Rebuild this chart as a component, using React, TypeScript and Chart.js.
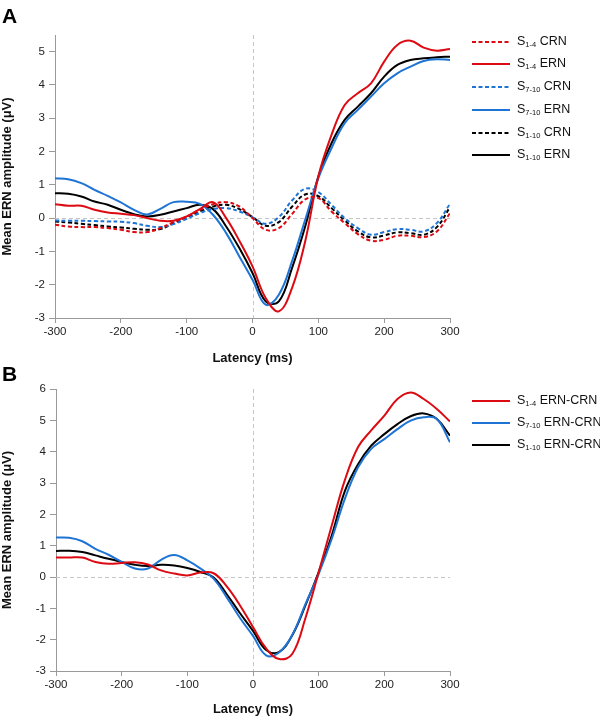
import React, { useEffect, useRef } from "react";
import { Chart, registerables } from "chart.js";

Chart.register(...registerables);

// ---------- data ----------
const LATENCY = [
  -300, -280, -260, -240, -220, -200, -180, -160, -140, -120, -100, -80, -60, -40, -20, 0,
  20, 40, 60, 80, 100, 120, 140, 160, 180, 200, 220, 240, 260, 280, 300,
];

// Panel A
const A_S14_CRN = [
  -0.2, -0.25, -0.27, -0.27, -0.3, -0.35, -0.42, -0.42, -0.3, -0.12, 0.05, 0.25, 0.42, 0.48, 0.35, 0.0,
  -0.35, -0.3, 0.12, 0.56, 0.6, 0.2, -0.15, -0.48, -0.68, -0.65, -0.53, -0.53, -0.57, -0.4, 0.15,
];
const A_S14_ERN = [
  0.42, 0.37, 0.37, 0.25, 0.17, 0.13, 0.09, 0.0, -0.08, -0.08, 0.05, 0.27, 0.48, 0.0, -0.68, -1.45,
  -2.4, -2.8, -2.1, -0.7, 1.25, 2.5, 3.4, 3.75, 4.05, 4.7, 5.2, 5.33, 5.12, 5.03, 5.08,
];
const A_S710_CRN = [
  -0.07, -0.08, -0.08, -0.09, -0.1, -0.11, -0.15, -0.23, -0.27, -0.18, -0.02, 0.15, 0.27, 0.3, 0.2, 0.03,
  -0.17, 0.03, 0.53, 0.88, 0.78, 0.4, 0.0, -0.3, -0.5, -0.42, -0.33, -0.35, -0.4, -0.15, 0.43,
];
const A_S710_ERN = [
  1.2, 1.17, 1.05, 0.85, 0.67, 0.47, 0.25, 0.11, 0.28, 0.48, 0.49, 0.43, 0.1, -0.45, -1.15, -1.85,
  -2.6, -2.3, -1.3, -0.05, 1.2, 2.1, 2.85, 3.25, 3.65, 4.05, 4.35, 4.55, 4.72, 4.77, 4.75,
];
const A_S110_CRN = [
  -0.1, -0.13, -0.17, -0.21, -0.25, -0.28, -0.32, -0.35, -0.33, -0.15, 0.02, 0.2, 0.35, 0.4, 0.27, 0.03,
  -0.23, -0.12, 0.34, 0.71, 0.66, 0.3, -0.07, -0.4, -0.58, -0.52, -0.43, -0.45, -0.5, -0.27, 0.33,
];
const A_S110_ERN = [
  0.75, 0.73, 0.65, 0.5, 0.4, 0.25, 0.12, 0.05, 0.1, 0.2, 0.3, 0.4, 0.27, -0.25, -0.9, -1.65,
  -2.5, -2.5, -1.5, -0.25, 1.25, 2.25, 2.95, 3.35, 3.75, 4.25, 4.6, 4.75, 4.8, 4.83, 4.85,
];

// Panel B
const B_S14_DIFF = [
  0.62, 0.62, 0.62, 0.48, 0.42, 0.45, 0.47, 0.4, 0.21, 0.11, 0.05, 0.14, 0.12, -0.3, -0.9, -1.6,
  -2.28, -2.62, -2.45, -1.3, 0.15, 1.65, 3.1, 4.15, 4.68, 5.15, 5.68, 5.89, 5.68, 5.36, 4.96,
];
const B_S710_DIFF = [
  1.26, 1.25, 1.14, 0.9, 0.71, 0.48, 0.27, 0.27, 0.55, 0.7, 0.53, 0.27, -0.05, -0.65, -1.3, -1.88,
  -2.5, -2.4, -1.84, -0.86, 0.1, 1.22, 2.5, 3.5, 4.09, 4.4, 4.72, 4.99, 5.1, 5.04, 4.3,
];
const B_S110_DIFF = [
  0.83, 0.84, 0.8, 0.69, 0.58, 0.48, 0.39, 0.35, 0.39, 0.37, 0.29, 0.16, -0.02, -0.55, -1.15, -1.72,
  -2.33, -2.39, -1.85, -0.9, 0.16, 1.33, 2.75, 3.6, 4.19, 4.56, 4.88, 5.13, 5.22, 5.04, 4.51,
];

const X_TICKS = [-300, -200, -100, 0, 100, 200, 300];
const A_Y_RANGE = [-3, 5.5];
const B_Y_RANGE = [-3, 6];

const LEGEND_A_SUBS = ["1-4", "1-4", "7-10", "7-10", "1-10", "1-10"];
const LEGEND_A_NAMES = ["CRN", "ERN", "CRN", "ERN", "CRN", "ERN"];
const LEGEND_B_SUBS = ["1-4", "7-10", "1-10"];
const LEGEND_B_NAMES = ["ERN-CRN", "ERN-CRN", "ERN-CRN"];

const X_TITLE = "Latency (ms)";
const Y_TITLE = "Mean ERN amplitude (\u03bcV)";

// ---------- styles ----------
const RED = "#dc0a12";
const BLUE = "#1e74d4";
const BLACK = "#000000";
const FONT = "'Liberation Sans', Arial, Helvetica, sans-serif";
const AXIS_GRAY = "#9a9a9a";
const DASH = [4, 2.5];

const zeroLines = {
  id: "zeroLines",
  beforeDatasetsDraw(chart: any) {
    const { ctx, chartArea, scales } = chart;
    const x0 = Math.round(scales.x.getPixelForValue(0)) + 0.5;
    const y0 = Math.round(scales.y.getPixelForValue(0)) + 0.5;
    ctx.save();
    ctx.strokeStyle = "#c6c6c6";
    ctx.lineWidth = 1;
    ctx.setLineDash([4, 3]);
    ctx.beginPath();
    ctx.moveTo(x0, chartArea.top);
    ctx.lineTo(x0, chartArea.bottom);
    ctx.moveTo(chartArea.left, y0);
    ctx.lineTo(chartArea.right, y0);
    ctx.stroke();
    ctx.restore();
  },
};

function series(values: number[]) {
  return LATENCY.map((x, i) => ({ x, y: values[i] }));
}

function ds(label: string, values: number[], color: string, dashed: boolean) {
  return {
    label,
    data: series(values),
    borderColor: color,
    backgroundColor: color,
    borderWidth: 2,
    borderDash: dashed ? DASH : [],
    pointRadius: 0,
    tension: 0.4,
    fill: false,
  };
}

function makeOptions(yRange: number[], yWidth: number, xHeight: number, top: number) {
  return {
    responsive: false,
    animation: false as const,
    devicePixelRatio: 1,
    layout: { padding: { left: 0, right: 150, top, bottom: 0 } },
    plugins: { legend: { display: false }, tooltip: { enabled: false } },
    scales: {
      x: {
        type: "linear" as const,
        min: -300,
        max: 300,
        afterBuildTicks: (axis: any) => {
          axis.ticks = X_TICKS.map((v) => ({ value: v }));
        },
        afterFit: (s: any) => {
          s.height = xHeight;
        },
        ticks: {
          font: { family: FONT, size: 11.5 },
          color: "#222",
          padding: 2,
          maxRotation: 0,
        },
        grid: {
          display: true,
          drawOnChartArea: false,
          drawTicks: true,
          tickLength: 5,
          color: AXIS_GRAY,
          tickColor: AXIS_GRAY,
        },
        border: { display: true, color: AXIS_GRAY, width: 1 },
        title: {
          display: true,
          text: X_TITLE,
          font: { family: FONT, size: 13, weight: "bold" as const },
          color: "#111",
          padding: { top: 0, bottom: 0 },
        },
      },
      y: {
        type: "linear" as const,
        min: yRange[0],
        max: yRange[1],
        ticks: {
          stepSize: 1,
          font: { family: FONT, size: 11.5 },
          color: "#222",
          padding: 4,
        },
        afterBuildTicks: (axis: any) => {
          axis.ticks = axis.ticks.filter((t: any) => Number.isInteger(t.value));
        },
        afterFit: (s: any) => {
          s.width = yWidth;
        },
        grid: {
          display: true,
          drawOnChartArea: false,
          drawTicks: true,
          tickLength: 6,
          color: AXIS_GRAY,
          tickColor: AXIS_GRAY,
        },
        border: { display: true, color: AXIS_GRAY, width: 1 },
        title: {
          display: true,
          text: Y_TITLE,
          font: { family: FONT, size: 13, weight: "bold" as const },
          color: "#111",
          padding: { top: 0, bottom: 0 },
        },
      },
    },
  };
}

function LegendRow(props: { top: number; color: string; dashed: boolean; sub: string; name: string }) {
  const { top, color, dashed, sub, name } = props;
  return (
    <div
      style={{
        position: "absolute",
        left: 472,
        top: top - 10,
        height: 20,
        display: "flex",
        alignItems: "center",
        whiteSpace: "nowrap",
      }}
    >
      <svg width={38} height={4} style={{ display: "block" }}>
        <line
          x1={0}
          y1={2}
          x2={38}
          y2={2}
          stroke={color}
          strokeWidth={2}
          strokeDasharray={dashed ? DASH.join(" ") : undefined}
        />
      </svg>
      <span style={{ marginLeft: 7, fontSize: 12.5, fontFamily: FONT, color: "#111", lineHeight: "20px" }}>
        S
        <span style={{ fontSize: 7.5, position: "relative", top: 2 }}>{sub}</span> {name}
      </span>
    </div>
  );
}

export default function App() {
  const refA = useRef<HTMLCanvasElement>(null);
  const refB = useRef<HTMLCanvasElement>(null);

  useEffect(() => {
    const chartA = new Chart(refA.current as HTMLCanvasElement, {
      type: "line",
      data: {
        datasets: [
          ds("S1-4 CRN", A_S14_CRN, RED, true),
          ds("S1-4 ERN", A_S14_ERN, RED, false),
          ds("S7-10 CRN", A_S710_CRN, BLUE, true),
          ds("S7-10 ERN", A_S710_ERN, BLUE, false),
          ds("S1-10 CRN", A_S110_CRN, BLACK, true),
          ds("S1-10 ERN", A_S110_ERN, BLACK, false),
        ],
      },
      options: makeOptions(A_Y_RANGE, 55, 48, 35) as any,
      plugins: [zeroLines],
    });
    const chartB = new Chart(refB.current as HTMLCanvasElement, {
      type: "line",
      data: {
        datasets: [
          ds("S1-4 ERN-CRN", B_S14_DIFF, RED, false),
          ds("S7-10 ERN-CRN", B_S710_DIFF, BLUE, false),
          ds("S1-10 ERN-CRN", B_S110_DIFF, BLACK, false),
        ],
      },
      options: makeOptions(B_Y_RANGE, 56, 46, 23) as any,
      plugins: [zeroLines],
    });
    return () => {
      chartA.destroy();
      chartB.destroy();
    };
  }, []);

  const colorsA = [RED, RED, BLUE, BLUE, BLACK, BLACK];
  const colorsB = [RED, BLUE, BLACK];

  return (
    <div style={{ position: "absolute", left: 0, top: 0, width: 600, height: 717, background: "#fff" }}>
      <canvas ref={refA} width={600} height={366} style={{ position: "absolute", left: 0, top: 0 }} />
      <canvas ref={refB} width={600} height={351} style={{ position: "absolute", left: 0, top: 366 }} />
      <div
        style={{
          position: "absolute",
          left: 2,
          top: 4.5,
          fontFamily: FONT,
          fontWeight: "bold",
          fontSize: 21,
          lineHeight: "21px",
          color: "#000",
        }}
      >
        A
      </div>
      <div
        style={{
          position: "absolute",
          left: 2,
          top: 363,
          fontFamily: FONT,
          fontWeight: "bold",
          fontSize: 21,
          lineHeight: "21px",
          color: "#000",
        }}
      >
        B
      </div>
      {LEGEND_A_SUBS.map((sub, i) => (
        <LegendRow
          key={"a" + i}
          top={41.7 + i * 22.7}
          color={colorsA[i]}
          dashed={i % 2 === 0}
          sub={sub}
          name={LEGEND_A_NAMES[i]}
        />
      ))}
      {LEGEND_B_SUBS.map((sub, i) => (
        <LegendRow
          key={"b" + i}
          top={400.7 + i * 22.2}
          color={colorsB[i]}
          dashed={false}
          sub={sub}
          name={LEGEND_B_NAMES[i]}
        />
      ))}
    </div>
  );
}
